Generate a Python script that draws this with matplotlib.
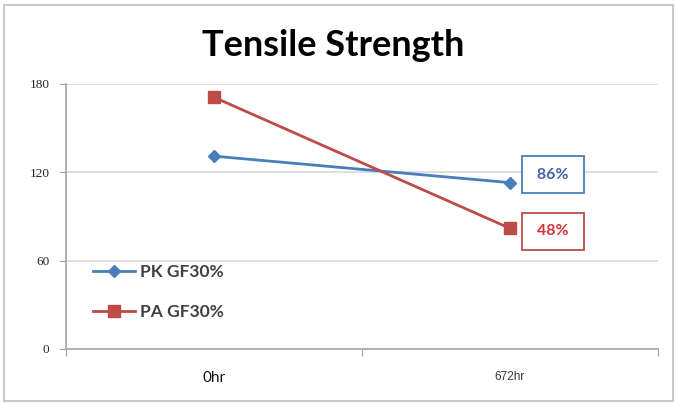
import matplotlib.pyplot as plt
from matplotlib.patches import Rectangle

# chart data
categories = ["0hr", "672hr"]
pk_values = [131, 113]
pa_values = [171, 82]
pk_label = "PK GF30%"
pa_label = "PA GF30%"
retention = ["86%", "48%"]
y_ticks = [0, 60, 120, 180]

blue = "#4A7EBB"
red = "#BE4B48"

fig = plt.figure(figsize=(6.76, 4.03), dpi=100)
fig.patches.append(Rectangle((0.006, 0.004), 0.99, 0.984, transform=fig.transFigure,
                             fill=False, edgecolor="#BFBFBF", linewidth=1.2))
ax = fig.add_axes([0.0976, 0.134, 0.8754, 0.6576])

x = list(range(len(categories)))
ax.plot(x, pk_values, color=blue, linewidth=2, marker="D", markersize=6,
        label=pk_label)
ax.plot(x, pa_values, color=red, linewidth=2, marker="s", markersize=8,
        label=pa_label)

ax.set_xlim(-0.5, 1.5)
ax.set_ylim(0, 180)
ax.set_yticks(y_ticks)
ax.set_yticklabels([str(v) for v in y_ticks], fontfamily="Liberation Serif",
                   fontsize=9.5, color="#262626")
ax.tick_params(axis="y", length=5, color="#A6A6A6", pad=7)
ax.yaxis.grid(True, color="#D9D9D9", linewidth=1.2)
ax.set_axisbelow(True)

# category boundaries as major ticks, labels on minor ticks
ax.set_xticks([-0.5, 0.5, 1.5])
ax.set_xticklabels([])
ax.tick_params(axis="x", which="major", length=5, color="#A6A6A6")
ax.set_xticks(x, minor=True)
ax.set_xticklabels(categories, minor=True)
ax.tick_params(axis="x", which="minor", length=0, pad=16)
lbls = ax.get_xticklabels(minor=True)
lbls[0].set_fontsize(11)
lbls[0].set_fontfamily("Lato")
lbls[0].set_color("#111111")
lbls[1].set_fontsize(8.5)
lbls[1].set_fontfamily("Liberation Sans")
lbls[1].set_color("#333333")

for side in ["top", "right"]:
    ax.spines[side].set_visible(False)
for side in ["left", "bottom"]:
    ax.spines[side].set_color("#A6A6A6")
    ax.spines[side].set_linewidth(1.2)

fig.text(0.493, 0.888, "Tensile Strength", ha="center", va="center",
         fontsize=26, fontweight="bold", fontfamily="Lato")

leg = ax.legend(loc="lower left", bbox_to_anchor=(0.02, 0.05), frameon=False,
                prop={"family": "Lato", "size": 12.5, "weight": "bold"},
                handlelength=2.4, labelspacing=1.4, handletextpad=0.3)
for t in leg.get_texts():
    t.set_color("#404040")

# retention boxes beside the 672hr points
offsets = [(43, 8), (43, -3)]
colors = [(blue, "#3F64A0"), (red, "#D0343A")]
for val, txt, off, (edge, tc) in zip([pk_values[1], pa_values[1]], retention,
                                     offsets, colors):
    ax.annotate(" " + txt + " ", xy=(1, val), xycoords="data", xytext=off,
                textcoords="offset pixels", ha="center", va="center",
                fontsize=11.5, fontweight="bold", fontfamily="Lato", color=tc,
                bbox=dict(boxstyle="square,pad=0.72", facecolor="white",
                          edgecolor=edge, linewidth=1.3))

fig.savefig("out.png", dpi=100)
